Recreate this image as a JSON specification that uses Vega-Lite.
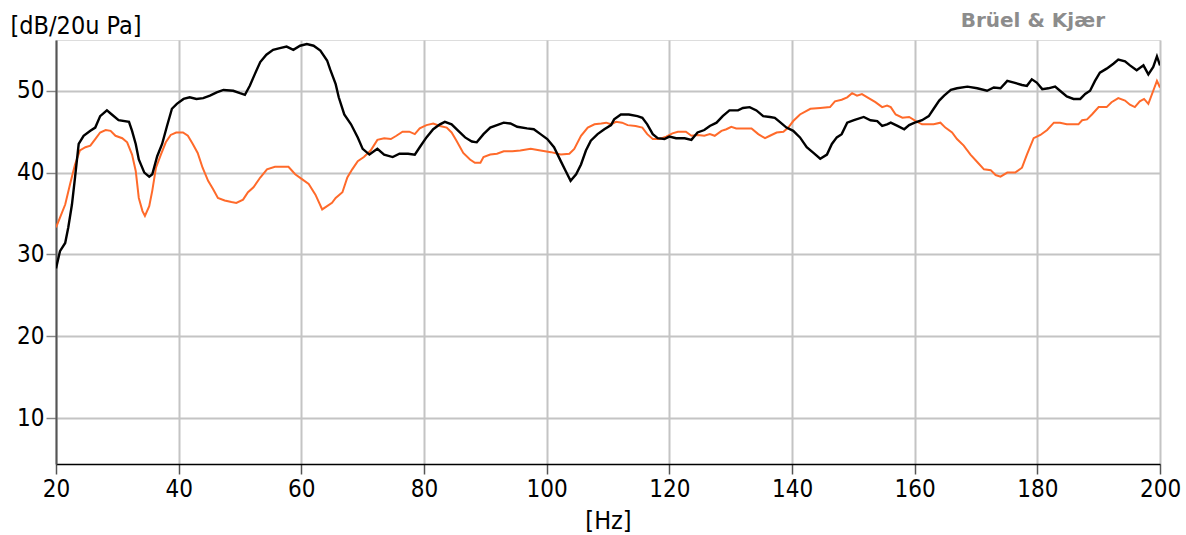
{
  "$schema": "https://vega.github.io/schema/vega-lite/v6.json",
  "autosize": {"type": "none"},
  "padding": {"left": 56, "top": 40, "right": 26, "bottom": 71},
  "width": 1104,
  "height": 424,
  "background": "white",
  "title": {"text": "Brüel & Kjær", "anchor": "end", "frame": "group", "baseline": "middle", "dx": -55, "dy": 28, "offset": 0, "font": "DejaVu Sans", "fontSize": 20, "fontWeight": "bold", "color": "#8c8c8c"},
  "datasets": {
    "black": [
      {"f": 20, "v": 28.3}, {"f": 20.65, "v": 30.4}, {"f": 21.5, "v": 31.4}, {"f": 22, "v": 33.3}, {"f": 22.6, "v": 36.1}, {"f": 23.1, "v": 39.4}, {"f": 23.7, "v": 43.5}, {"f": 24.5, "v": 44.5}, {"f": 25.6, "v": 45.1}, {"f": 26.4, "v": 45.5}, {"f": 27.2, "v": 46.9}, {"f": 28.3, "v": 47.6}, {"f": 29.1, "v": 47.1}, {"f": 30.2, "v": 46.4}, {"f": 31.9, "v": 46.2}, {"f": 32.4, "v": 45.1}, {"f": 33, "v": 43.5}, {"f": 33.5, "v": 41.6}, {"f": 34.4, "v": 40}, {"f": 35.2, "v": 39.5}, {"f": 35.7, "v": 39.8}, {"f": 36.5, "v": 42}, {"f": 37.3, "v": 43.5}, {"f": 38.1, "v": 45.7}, {"f": 38.9, "v": 47.8}, {"f": 39.7, "v": 48.4}, {"f": 40.8, "v": 49}, {"f": 41.8, "v": 49.2}, {"f": 42.9, "v": 49}, {"f": 44, "v": 49.1}, {"f": 45.1, "v": 49.4}, {"f": 46.2, "v": 49.8}, {"f": 47.3, "v": 50.1}, {"f": 48.9, "v": 50}, {"f": 50, "v": 49.7}, {"f": 50.8, "v": 49.5}, {"f": 51.6, "v": 50.6}, {"f": 52.4, "v": 52}, {"f": 53.3, "v": 53.5}, {"f": 54.3, "v": 54.4}, {"f": 55.4, "v": 55}, {"f": 56.5, "v": 55.2}, {"f": 57.6, "v": 55.4}, {"f": 58.7, "v": 55}, {"f": 59.8, "v": 55.5}, {"f": 60.9, "v": 55.7}, {"f": 62, "v": 55.5}, {"f": 63.1, "v": 54.9}, {"f": 64.2, "v": 53.7}, {"f": 64.7, "v": 52.6}, {"f": 65.6, "v": 50.8}, {"f": 66.1, "v": 49.2}, {"f": 67, "v": 47.1}, {"f": 68.1, "v": 45.9}, {"f": 69.2, "v": 44.3}, {"f": 70, "v": 42.9}, {"f": 71.1, "v": 42.2}, {"f": 72.4, "v": 42.9}, {"f": 73.5, "v": 42.2}, {"f": 74.9, "v": 41.9}, {"f": 76, "v": 42.3}, {"f": 77.4, "v": 42.3}, {"f": 78.5, "v": 42.2}, {"f": 79.3, "v": 43.1}, {"f": 80.4, "v": 44.3}, {"f": 81.5, "v": 45.3}, {"f": 82.6, "v": 45.9}, {"f": 83.4, "v": 46.2}, {"f": 84.5, "v": 45.9}, {"f": 85.6, "v": 45.1}, {"f": 86.7, "v": 44.3}, {"f": 87.8, "v": 43.8}, {"f": 88.6, "v": 43.7}, {"f": 89.7, "v": 44.7}, {"f": 90.8, "v": 45.5}, {"f": 91.9, "v": 45.8}, {"f": 93, "v": 46.1}, {"f": 94.1, "v": 46}, {"f": 95.2, "v": 45.6}, {"f": 96.8, "v": 45.4}, {"f": 97.9, "v": 45.3}, {"f": 99, "v": 44.7}, {"f": 100.1, "v": 44.1}, {"f": 101.2, "v": 43.1}, {"f": 102.3, "v": 41.4}, {"f": 103.1, "v": 40.2}, {"f": 103.9, "v": 39}, {"f": 104.8, "v": 39.8}, {"f": 105.6, "v": 41}, {"f": 106.4, "v": 42.7}, {"f": 107.2, "v": 43.9}, {"f": 108.3, "v": 44.7}, {"f": 109.4, "v": 45.3}, {"f": 110.5, "v": 45.8}, {"f": 111, "v": 46.5}, {"f": 112.1, "v": 47.1}, {"f": 113.4, "v": 47.1}, {"f": 114.8, "v": 46.9}, {"f": 115.6, "v": 46.7}, {"f": 116.4, "v": 45.9}, {"f": 117.3, "v": 44.7}, {"f": 118.1, "v": 44.2}, {"f": 119.2, "v": 44.1}, {"f": 120, "v": 44.4}, {"f": 121.1, "v": 44.2}, {"f": 122.5, "v": 44.2}, {"f": 123.6, "v": 44}, {"f": 124.6, "v": 44.9}, {"f": 125.7, "v": 45.2}, {"f": 126.6, "v": 45.7}, {"f": 127.7, "v": 46.1}, {"f": 128.7, "v": 46.9}, {"f": 129.8, "v": 47.6}, {"f": 131.2, "v": 47.6}, {"f": 132, "v": 47.9}, {"f": 133.1, "v": 48}, {"f": 134.2, "v": 47.6}, {"f": 135.3, "v": 46.9}, {"f": 136.4, "v": 46.8}, {"f": 137.2, "v": 46.7}, {"f": 138, "v": 46.2}, {"f": 139.1, "v": 45.5}, {"f": 140.2, "v": 45.1}, {"f": 141.3, "v": 44.3}, {"f": 142.4, "v": 43.1}, {"f": 143.5, "v": 42.4}, {"f": 144.6, "v": 41.7}, {"f": 145.7, "v": 42.2}, {"f": 146.5, "v": 43.5}, {"f": 147.3, "v": 44.3}, {"f": 148.1, "v": 44.7}, {"f": 149, "v": 46.1}, {"f": 150.1, "v": 46.4}, {"f": 151.7, "v": 46.8}, {"f": 152.8, "v": 46.4}, {"f": 153.9, "v": 46.3}, {"f": 154.7, "v": 45.7}, {"f": 155.5, "v": 45.9}, {"f": 156.1, "v": 46.1}, {"f": 157.2, "v": 45.7}, {"f": 158.3, "v": 45.3}, {"f": 159.1, "v": 45.8}, {"f": 160, "v": 46.1}, {"f": 161.2, "v": 46.4}, {"f": 162.3, "v": 46.9}, {"f": 163.1, "v": 47.8}, {"f": 164, "v": 48.8}, {"f": 164.8, "v": 49.4}, {"f": 165.9, "v": 50.1}, {"f": 166.9, "v": 50.3}, {"f": 168.6, "v": 50.5}, {"f": 170.2, "v": 50.3}, {"f": 171.8, "v": 50}, {"f": 172.9, "v": 50.4}, {"f": 174, "v": 50.3}, {"f": 175.1, "v": 51.2}, {"f": 176.2, "v": 51}, {"f": 177.5, "v": 50.7}, {"f": 178.3, "v": 50.6}, {"f": 179.1, "v": 51.4}, {"f": 179.9, "v": 51}, {"f": 180.8, "v": 50.2}, {"f": 181.8, "v": 50.3}, {"f": 182.9, "v": 50.5}, {"f": 183.7, "v": 50}, {"f": 184.8, "v": 49.3}, {"f": 185.9, "v": 49}, {"f": 187, "v": 49}, {"f": 187.8, "v": 49.6}, {"f": 188.6, "v": 50}, {"f": 189.4, "v": 51.2}, {"f": 190.2, "v": 52.2}, {"f": 191.3, "v": 52.7}, {"f": 192.4, "v": 53.3}, {"f": 193.2, "v": 53.8}, {"f": 194.3, "v": 53.6}, {"f": 195.1, "v": 53.1}, {"f": 196.2, "v": 52.5}, {"f": 197.3, "v": 53.1}, {"f": 198.1, "v": 52}, {"f": 198.9, "v": 52.9}, {"f": 199.5, "v": 54.2}, {"f": 200, "v": 53.1}
    ],
    "orange": [
      {"f": 20, "v": 33.3}, {"f": 20.65, "v": 34.5}, {"f": 21.5, "v": 36.1}, {"f": 22.3, "v": 38.6}, {"f": 23.1, "v": 41}, {"f": 23.9, "v": 42.7}, {"f": 24.8, "v": 43.1}, {"f": 25.6, "v": 43.3}, {"f": 26.4, "v": 44.1}, {"f": 27.2, "v": 44.9}, {"f": 28.1, "v": 45.2}, {"f": 28.9, "v": 45.1}, {"f": 29.7, "v": 44.5}, {"f": 30.8, "v": 44.2}, {"f": 31.6, "v": 43.7}, {"f": 32.4, "v": 42.2}, {"f": 33, "v": 40.2}, {"f": 33.5, "v": 36.9}, {"f": 34.1, "v": 35.3}, {"f": 34.5, "v": 34.7}, {"f": 35.2, "v": 35.9}, {"f": 35.7, "v": 37.8}, {"f": 36.3, "v": 40.6}, {"f": 37.1, "v": 42.2}, {"f": 37.9, "v": 43.7}, {"f": 38.7, "v": 44.6}, {"f": 39.6, "v": 44.9}, {"f": 40.7, "v": 44.9}, {"f": 41.5, "v": 44.5}, {"f": 42.3, "v": 43.5}, {"f": 43.1, "v": 42.4}, {"f": 43.9, "v": 40.6}, {"f": 44.8, "v": 39}, {"f": 45.6, "v": 38}, {"f": 46.4, "v": 36.9}, {"f": 47.5, "v": 36.6}, {"f": 48.6, "v": 36.4}, {"f": 49.4, "v": 36.3}, {"f": 50.5, "v": 36.7}, {"f": 51.3, "v": 37.6}, {"f": 52.2, "v": 38.2}, {"f": 53.3, "v": 39.4}, {"f": 54.4, "v": 40.4}, {"f": 55.7, "v": 40.7}, {"f": 57.9, "v": 40.7}, {"f": 59, "v": 39.8}, {"f": 60.1, "v": 39.2}, {"f": 61.2, "v": 38.6}, {"f": 62.3, "v": 37.3}, {"f": 63.4, "v": 35.5}, {"f": 64.2, "v": 35.9}, {"f": 65, "v": 36.3}, {"f": 65.6, "v": 36.9}, {"f": 66.7, "v": 37.6}, {"f": 67.5, "v": 39.4}, {"f": 68.3, "v": 40.4}, {"f": 69.2, "v": 41.4}, {"f": 70.2, "v": 41.9}, {"f": 71.3, "v": 42.7}, {"f": 72.4, "v": 44}, {"f": 73.5, "v": 44.2}, {"f": 74.6, "v": 44.1}, {"f": 75.5, "v": 44.5}, {"f": 76.5, "v": 45}, {"f": 77.6, "v": 45}, {"f": 78.5, "v": 44.7}, {"f": 79.3, "v": 45.4}, {"f": 80.4, "v": 45.8}, {"f": 81.5, "v": 46}, {"f": 82.6, "v": 45.7}, {"f": 83.7, "v": 45.5}, {"f": 84.5, "v": 44.9}, {"f": 85.3, "v": 43.9}, {"f": 86.4, "v": 42.4}, {"f": 87.5, "v": 41.6}, {"f": 88.3, "v": 41.2}, {"f": 89.2, "v": 41.2}, {"f": 89.7, "v": 41.9}, {"f": 90.8, "v": 42.2}, {"f": 91.9, "v": 42.3}, {"f": 93, "v": 42.6}, {"f": 94.4, "v": 42.6}, {"f": 95.7, "v": 42.7}, {"f": 97.4, "v": 42.9}, {"f": 99, "v": 42.7}, {"f": 100.7, "v": 42.5}, {"f": 102.3, "v": 42.2}, {"f": 103.7, "v": 42.3}, {"f": 104.5, "v": 42.9}, {"f": 105.6, "v": 44.5}, {"f": 106.7, "v": 45.5}, {"f": 107.8, "v": 45.9}, {"f": 108.9, "v": 46}, {"f": 109.7, "v": 46.1}, {"f": 110.5, "v": 45.9}, {"f": 111.3, "v": 46.2}, {"f": 112.3, "v": 46.1}, {"f": 113.2, "v": 45.8}, {"f": 114.5, "v": 45.7}, {"f": 115.6, "v": 45.5}, {"f": 116.4, "v": 44.7}, {"f": 117.3, "v": 44.1}, {"f": 118.4, "v": 44.1}, {"f": 119.5, "v": 44.4}, {"f": 120.5, "v": 44.8}, {"f": 121.4, "v": 45}, {"f": 122.7, "v": 45}, {"f": 123.6, "v": 44.5}, {"f": 124.6, "v": 44.6}, {"f": 125.7, "v": 44.5}, {"f": 126.6, "v": 44.7}, {"f": 127.4, "v": 44.5}, {"f": 128.5, "v": 45.1}, {"f": 129.3, "v": 45.3}, {"f": 130.1, "v": 45.6}, {"f": 130.9, "v": 45.4}, {"f": 132, "v": 45.4}, {"f": 133.4, "v": 45.4}, {"f": 134.5, "v": 44.7}, {"f": 135.6, "v": 44.2}, {"f": 136.4, "v": 44.5}, {"f": 137.5, "v": 44.9}, {"f": 138.6, "v": 45}, {"f": 139.4, "v": 45.5}, {"f": 140.2, "v": 46.3}, {"f": 141.3, "v": 47.1}, {"f": 143, "v": 47.8}, {"f": 144.6, "v": 47.9}, {"f": 146.2, "v": 48}, {"f": 147, "v": 48.7}, {"f": 148.1, "v": 48.9}, {"f": 149, "v": 49.2}, {"f": 149.8, "v": 49.7}, {"f": 150.6, "v": 49.4}, {"f": 151.4, "v": 49.6}, {"f": 152.5, "v": 49.1}, {"f": 153.6, "v": 48.6}, {"f": 154.7, "v": 48}, {"f": 155.5, "v": 48.2}, {"f": 156.1, "v": 48}, {"f": 156.9, "v": 47.1}, {"f": 158, "v": 46.7}, {"f": 159.1, "v": 46.8}, {"f": 160.2, "v": 46.3}, {"f": 161.2, "v": 45.9}, {"f": 163.1, "v": 45.9}, {"f": 164.2, "v": 46.1}, {"f": 165, "v": 45.5}, {"f": 166.1, "v": 44.9}, {"f": 166.9, "v": 44.1}, {"f": 168, "v": 43.3}, {"f": 169.1, "v": 42.2}, {"f": 170.2, "v": 41.3}, {"f": 171.3, "v": 40.4}, {"f": 172.4, "v": 40.3}, {"f": 173.2, "v": 39.7}, {"f": 174, "v": 39.5}, {"f": 175.1, "v": 40}, {"f": 176.4, "v": 40}, {"f": 177.5, "v": 40.6}, {"f": 178.3, "v": 42.2}, {"f": 179.4, "v": 44.2}, {"f": 180.5, "v": 44.6}, {"f": 181.6, "v": 45.2}, {"f": 182.7, "v": 46.1}, {"f": 183.7, "v": 46.1}, {"f": 184.8, "v": 45.9}, {"f": 186.7, "v": 45.9}, {"f": 187.3, "v": 46.4}, {"f": 188.1, "v": 46.5}, {"f": 188.9, "v": 47.1}, {"f": 190, "v": 48}, {"f": 191.3, "v": 48}, {"f": 192.1, "v": 48.6}, {"f": 193.2, "v": 49.1}, {"f": 194.3, "v": 48.8}, {"f": 195.1, "v": 48.3}, {"f": 195.9, "v": 48}, {"f": 196.7, "v": 48.7}, {"f": 197.4, "v": 49}, {"f": 198.1, "v": 48.4}, {"f": 198.9, "v": 50}, {"f": 199.5, "v": 51.2}, {"f": 200, "v": 50.4}
    ]
  },
  "encoding": {
    "x": {
      "field": "f", "type": "quantitative",
      "scale": {"domain": [20, 200], "nice": false, "zero": false},
      "axis": {
        "title": "[Hz]", "values": [20, 40, 60, 80, 100, 120, 140, 160, 180, 200],
        "grid": true, "gridColor": "#c4c4c4", "gridWidth": 2,
        "domainColor": "#000000", "domainWidth": 1.5,
        "tickColor": "#555555", "tickWidth": 1.5, "tickSize": 10,
        "labelFont": "DejaVu Sans Condensed, DejaVu Sans", "labelFontSize": 24, "labelColor": "#000000", "labelPadding": 3,
        "labelFlush": false,
        "titleFont": "DejaVu Sans Condensed, DejaVu Sans", "titleFontSize": 25, "titleFontWeight": "normal", "titleColor": "#000000", "titlePadding": 7
      }
    },
    "y": {
      "field": "v", "type": "quantitative",
      "scale": {"domain": [4.4, 56.2], "nice": false, "zero": false},
      "axis": {
        "title": "[dB/20u Pa]", "values": [10, 20, 30, 40, 50],
        "grid": true, "gridColor": "#c4c4c4", "gridWidth": 2,
        "domainColor": "#555555", "domainWidth": 2,
        "tickColor": "#888888", "tickWidth": 1.5, "tickSize": 10,
        "labelFont": "DejaVu Sans Condensed, DejaVu Sans", "labelFontSize": 24, "labelColor": "#000000", "labelPadding": 2,
        "titleFont": "DejaVu Sans Condensed, DejaVu Sans", "titleFontSize": 25, "titleFontWeight": "normal", "titleColor": "#000000",
        "titleAngle": 0, "titleAlign": "left", "titleBaseline": "alphabetic", "titleX": -46, "titleY": -7
      }
    }
  },
  "layer": [
    {"data": {"name": "orange"}, "mark": {"type": "line", "color": "#ff6a2a", "strokeWidth": 2, "clip": true}},
    {"data": {"name": "black"}, "mark": {"type": "line", "color": "#000000", "strokeWidth": 2.4, "clip": true}}
  ]
}
